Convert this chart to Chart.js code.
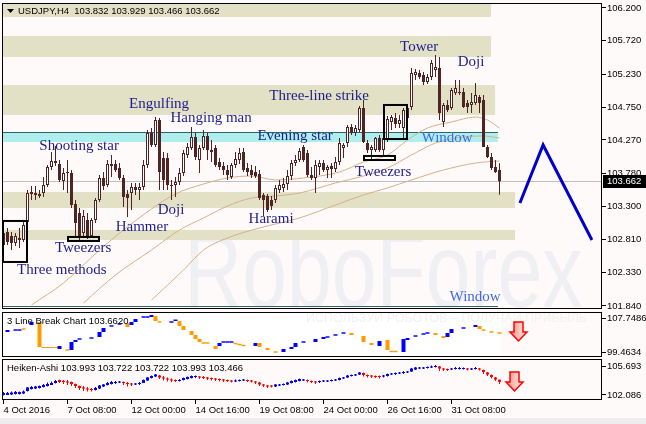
<!DOCTYPE html>
<html>
<head>
<meta charset="utf-8">
<script src="https://cdn.jsdelivr.net/npm/chart.js@4.4.1/dist/chart.umd.min.js"></script>
<style>
  body { margin: 0; background: #fffafa; width: 646px; height: 424px; overflow: hidden; position: relative; }
  canvas { position: absolute; left: 0; }
  #strip { position: absolute; left: 0; top: 418px; width: 646px; height: 6px; background: #ededed; }
</style>
</head>
<body>
<canvas id="main" width="646" height="311" style="top:0"></canvas>
<canvas id="lb" width="646" height="47" style="top:311px"></canvas>
<canvas id="ha" width="646" height="66" style="top:358px"></canvas>
<div id="strip"></div>
<script>
// USDJPY H4, bars 0..124 (4 Oct 16:00 .. 2 Nov 08:00)
const opens = [102.733,102.923,102.864,102.762,102.835,102.806,103.069,103.508,103.464,103.479,
  103.493,103.610,103.874,103.962,103.918,103.669,103.786,103.786,103.332,103.201,
  102.908,103.098,102.864,103.098,103.391,103.713,103.610,103.918,103.918,103.859,
  103.713,103.479,103.493,103.581,103.537,103.581,103.903,104.371,104.196,104.561,
  104.005,104.005,103.610,103.610,103.654,103.786,104.049,104.152,104.313,103.976,
  104.152,104.327,104.122,104.152,103.947,103.888,103.830,103.727,103.903,103.976,
  104.093,103.859,103.830,103.801,103.771,103.464,103.450,103.391,103.391,103.537,
  103.567,103.625,103.742,103.932,103.976,104.166,104.079,103.757,103.713,103.874,
  103.932,103.830,103.888,103.845,103.947,104.152,104.225,104.459,104.371,104.415,
  104.737,104.225,104.122,104.122,104.298,104.122,104.269,104.532,104.591,104.503,
  104.444,104.591,104.752,105.220,105.249,105.220,105.117,105.190,105.293,105.322,
  104.532,104.781,104.737,104.956,104.971,104.971,104.810,104.781,104.810,104.898,
  104.854,104.166,104.020,103.874,103.832];
const highs = [102.981,102.981,102.923,102.908,102.981,103.069,103.537,103.596,103.596,103.537,
  103.727,103.903,104.093,104.181,103.976,103.859,103.976,103.830,103.391,103.274,
  103.245,103.201,103.128,103.420,103.757,103.801,103.976,104.049,103.976,103.932,
  103.757,103.537,103.640,103.640,103.640,103.976,104.415,104.444,104.605,104.591,
  104.093,104.079,103.684,103.727,103.859,104.122,104.225,104.459,104.371,104.196,
  104.415,104.371,104.269,104.196,104.005,103.947,103.903,103.932,104.093,104.152,
  104.152,103.932,103.903,103.888,103.830,103.493,103.479,103.450,103.610,103.684,
  103.713,103.830,103.976,104.049,104.152,104.196,104.122,103.874,103.976,103.976,
  103.976,103.903,103.932,104.020,104.298,104.225,104.488,104.503,104.488,104.766,
  104.854,104.269,104.196,104.313,104.342,104.313,104.620,104.635,104.664,104.635,
  104.737,104.781,105.322,105.308,105.293,105.264,105.234,105.439,105.512,105.483,
  104.810,104.854,105.030,105.147,105.147,105.030,104.854,104.956,105.103,104.927,
  104.927,104.196,104.079,103.976,103.929];
const lows = [102.659,102.733,102.659,102.718,102.689,102.777,103.025,103.391,103.391,103.420,
  103.435,103.581,103.830,103.888,103.654,103.537,103.493,103.274,102.864,102.806,
  102.835,102.820,102.835,103.055,103.362,103.537,103.581,103.727,103.801,103.684,
  103.289,103.142,103.245,103.464,103.391,103.537,103.859,104.166,104.166,103.537,
  103.537,103.537,103.391,103.435,103.610,103.742,104.005,104.122,103.976,103.786,
  104.122,103.976,103.947,103.874,103.830,103.757,103.684,103.698,103.859,103.918,
  103.801,103.742,103.713,103.713,103.391,103.157,103.215,103.245,103.347,103.493,
  103.508,103.537,103.684,103.888,103.947,103.947,103.727,103.684,103.493,103.757,
  103.801,103.713,103.713,103.801,103.903,104.005,104.166,104.342,104.327,104.386,
  104.225,104.079,103.976,104.093,104.093,104.020,104.240,104.415,104.444,104.444,
  104.283,104.488,104.708,105.147,105.161,105.073,105.088,105.147,105.190,104.561,
  104.459,104.678,104.708,104.927,104.927,104.737,104.664,104.664,104.781,104.664,
  104.166,104.005,103.830,103.786,103.466];
const closes = [102.908,102.777,102.762,102.864,102.806,103.025,103.493,103.479,103.493,103.450,
  103.610,103.874,103.962,103.932,103.684,103.786,103.801,103.318,103.055,102.864,
  103.157,102.864,103.098,103.391,103.713,103.596,103.918,103.888,103.830,103.713,
  103.435,103.420,103.581,103.537,103.581,103.903,104.371,104.196,104.561,103.801,
  103.684,103.610,103.596,103.654,103.786,104.079,104.166,104.313,104.020,104.152,
  104.327,104.122,104.093,103.903,103.874,103.830,103.757,103.903,103.991,104.079,
  103.830,103.801,103.757,103.742,103.420,103.391,103.245,103.303,103.567,103.610,
  103.625,103.742,103.932,103.976,104.108,103.976,103.757,103.713,103.903,103.932,
  103.830,103.874,103.845,103.947,104.225,104.196,104.459,104.371,104.444,104.737,
  104.240,104.122,104.166,104.298,104.122,104.298,104.576,104.605,104.503,104.561,
  104.708,104.737,105.249,105.264,105.190,105.117,105.190,105.395,105.337,104.664,
  104.781,104.708,105.000,105.030,104.956,104.752,104.752,104.825,104.927,104.810,
  104.166,104.020,103.859,103.801,103.662];

// moving averages, read at a few bars
const maFastBars = [7,15,24,30,37,43,50,56,62,68,75,84,90,96,101,106,112,118,121,124];
const maFastValues = [101.855,102.177,102.659,102.952,103.259,103.479,103.625,103.713,103.742,103.684,103.713,103.801,103.947,104.049,104.269,104.444,104.532,104.605,104.561,104.444];
const maMidBars = [20,28,37,44,50,56,62,68,74,83,90,96,102,108,115,120,124];
const maMidValues = [101.884,102.294,102.659,102.952,103.128,103.303,103.420,103.450,103.493,103.640,103.742,103.859,104.049,104.225,104.313,104.327,104.298];
const maSlowBars = [37,45,50,56,64,74,83,90,96,102,110,118,124];
const maSlowValues = [101.927,102.366,102.659,102.835,102.981,103.128,103.318,103.464,103.567,103.684,103.830,103.932,103.962];

// forecast zigzag
const forecastBars = [129.1, 134.9, 147.1];
const forecastValues = [103.347, 104.196, 102.806];

// price zones
const zoneTops = [106.273, 105.790, 105.073, 103.508, 102.952];
const zoneBottoms = [106.068, 105.483, 104.635, 103.274, 102.806];
const zoneEnds = [121.9, 121.9, 122.9, 127.9, 127.9];
const windowTop = 104.386, windowBottom = 104.240, windowEnd = 123.6;
const lowerWindowLevel = 101.840;
const lastPrice = 103.662;

const priceTicks = [106.200,105.720,105.230,104.750,104.270,103.780,103.300,102.810,102.330,101.840];

// pattern labels
const labelText = ['Engulfing','Hanging man','Shooting star','Tweezers','Three methods','Hammer','Doji','Harami','Evening star','Three-line strike','Tweezers','Tower','Doji'];
const labelBars = [38.9,51.9,18.9,19.9,14.6,34.6,41.9,66.9,72.9,78.9,94.9,103.9,116.9];
const labelPrices = [104.795,104.591,104.181,102.689,102.367,102.996,103.245,103.113,104.327,104.912,103.801,105.629,105.410];
const windowLabelBars = [110.9, 117.9];
const windowLabelPrices = [104.298, 101.972];

const boxFrom = [-0.375, 15.875, 89.875, 94.875];
const boxTo = [5.875, 23.875, 97.875, 100.875];
const boxTops = [103.084, 102.850, 104.035, 104.781];
const boxBottoms = [102.484, 102.791, 103.976, 104.283];

// 3 Line Break
const lbBars = [1,3,4,5,7,9,10,11,12,13,14,16,17,18,19,22,24,25,27,29,31,32,33,35,36,37,38,39,42,43,44,45,47,48,49,50,51,53,54,55,56,57,58,59,60,63,64,66,68,70,72,73,75,78,80,81,83,85,87,90,92,94,96,97,98,100,101,103,105,106,108,110,111,112,115,118,119,120,122,124];
const lbLow = [104.34,104.64,104.64,104.89,106.04,100.68,100.44,100.44,100.44,100.44,100.20,99.77,99.95,101.90,102.45,102.69,103.12,104.34,105.62,106.11,105.56,106.04,106.77,107.81,107.81,107.99,107.02,106.59,106.59,107.02,105.80,104.82,103.61,102.63,101.90,101.48,101.48,100.20,100.93,101.72,101.72,101.72,101.36,101.11,100.87,100.93,100.68,99.95,99.28,99.46,100.20,100.68,101.72,101.90,102.63,102.94,103.43,103.91,103.61,101.90,101.17,100.93,99.95,99.41,99.41,99.46,102.39,103.18,103.67,103.91,103.61,102.87,103.12,104.09,105.13,105.56,105.07,104.64,104.16,103.91];
const lbHigh = [104.82,105.00,105.00,105.25,106.77,106.77,100.68,100.68,100.68,100.68,100.93,100.13,101.90,102.39,102.81,103.05,104.34,105.31,105.98,106.47,106.53,106.77,107.51,108.17,108.17,108.48,108.24,106.95,106.95,107.38,107.02,105.80,104.58,103.61,102.63,101.84,101.84,100.93,101.66,102.08,102.08,102.08,101.72,101.47,101.23,101.66,101.66,100.44,99.64,100.20,100.68,101.66,102.08,102.63,103.12,103.30,103.79,104.27,104.09,103.36,101.66,102.14,102.39,99.77,99.77,102.63,102.87,103.54,104.03,104.27,104.09,103.36,104.09,105.07,105.49,106.04,105.80,105.00,104.52,104.27];
const lbUp = [1,1,1,0,1,0,0,0,0,0,1,0,1,1,1,1,1,1,1,1,0,1,1,1,1,1,0,0,1,1,0,0,0,0,0,0,0,0,1,1,1,1,0,0,0,1,0,0,0,1,1,1,1,1,1,1,1,1,0,0,0,1,0,0,0,1,1,1,1,1,0,0,1,1,1,1,0,0,0,0];
const lbTicks = [107.7486, 99.4634];

// Heiken-Ashi
const haOpen = [102.086,102.086,102.148,102.210,102.210,102.272,102.583,102.832,102.894,102.957,
  103.081,103.205,103.330,103.578,103.952,103.827,103.765,103.703,103.454,103.205,
  103.019,102.894,102.832,102.708,102.894,103.143,103.330,103.454,103.578,103.641,
  103.703,103.578,103.516,103.392,103.454,103.578,103.889,104.200,104.387,104.512,
  104.263,104.138,104.014,103.952,103.827,103.952,104.076,104.200,104.325,104.387,
  104.325,104.263,104.200,104.138,104.076,104.014,103.952,103.889,103.765,103.827,
  103.889,103.952,103.889,103.765,103.641,103.392,103.267,103.267,103.143,103.267,
  103.330,103.392,103.578,103.703,103.827,103.889,103.952,103.827,103.765,103.703,
  103.765,103.765,103.827,103.889,103.952,104.138,104.263,104.449,104.512,104.636,
  104.822,104.574,104.512,104.449,104.449,104.387,104.449,104.636,104.698,104.760,
  104.822,104.885,105.009,105.258,105.382,105.382,105.444,105.507,105.569,105.631,
  105.382,105.320,105.258,105.320,105.320,105.320,105.382,105.258,105.320,105.382,
  105.196,104.885,104.574,104.263,103.993];
const haClose = [102.335,102.335,102.397,102.459,102.459,102.521,103.019,103.081,103.143,103.205,
  103.330,103.454,103.578,103.827,103.703,103.703,103.641,103.454,103.205,102.957,
  102.894,102.770,102.708,102.957,103.267,103.392,103.578,103.703,103.703,103.765,
  103.578,103.454,103.392,103.516,103.578,103.952,104.263,104.449,104.636,104.263,
  104.138,104.014,103.889,103.827,103.952,104.200,104.325,104.449,104.449,104.263,
  104.200,104.138,104.076,104.014,103.952,103.889,103.827,103.765,103.889,103.952,
  104.014,103.827,103.765,103.641,103.392,103.267,103.143,103.143,103.392,103.392,
  103.454,103.641,103.827,103.952,104.076,104.014,103.827,103.703,103.641,103.827,
  103.889,103.889,103.952,104.014,104.200,104.263,104.512,104.574,104.636,104.885,
  104.574,104.449,104.387,104.325,104.325,104.512,104.698,104.760,104.822,104.885,
  104.947,105.009,105.382,105.507,105.507,105.507,105.569,105.631,105.693,105.382,
  105.258,105.196,105.382,105.444,105.444,105.444,105.258,105.382,105.444,105.258,
  104.947,104.636,104.325,104.014,103.722];
const haHigh = [102.459,102.459,102.521,102.583,102.521,102.646,103.081,103.205,103.205,103.267,
  103.454,103.641,103.765,103.952,104.014,103.952,103.952,103.765,103.516,103.267,
  103.205,103.081,102.957,103.081,103.330,103.454,103.703,103.827,103.827,103.827,
  103.765,103.703,103.578,103.578,103.703,104.014,104.325,104.512,104.698,104.574,
  104.449,104.263,104.138,104.014,104.076,104.263,104.387,104.512,104.512,104.449,
  104.449,104.325,104.263,104.200,104.138,104.076,104.014,103.952,104.014,104.014,
  104.076,104.014,103.952,103.827,103.703,103.454,103.330,103.330,103.454,103.454,
  103.516,103.703,103.889,104.014,104.138,104.076,104.014,103.889,103.827,103.889,
  103.952,103.952,104.014,104.076,104.263,104.325,104.574,104.636,104.698,104.947,
  104.885,104.636,104.574,104.512,104.512,104.574,104.760,104.822,104.885,104.947,
  105.071,105.071,105.444,105.569,105.569,105.569,105.631,105.755,105.817,105.693,
  105.444,105.382,105.444,105.569,105.569,105.507,105.444,105.444,105.569,105.444,
  105.258,104.947,104.636,104.325,103.993];
const haLow = [102.024,102.086,102.086,102.148,102.148,102.210,102.521,102.770,102.832,102.894,
  103.019,103.143,103.330,103.516,103.578,103.454,103.330,103.205,102.957,102.708,
  102.583,102.521,102.521,102.646,102.832,103.081,103.267,103.392,103.454,103.578,
  103.330,103.143,103.205,103.330,103.330,103.578,103.827,104.138,104.325,104.076,
  103.889,103.765,103.703,103.703,103.765,103.889,104.014,104.138,104.200,104.076,
  104.076,103.952,103.889,103.827,103.765,103.703,103.703,103.641,103.703,103.765,
  103.827,103.703,103.641,103.454,103.205,103.081,102.957,103.019,103.081,103.205,
  103.267,103.330,103.516,103.641,103.765,103.827,103.641,103.578,103.454,103.578,
  103.703,103.703,103.765,103.827,103.889,104.076,104.200,104.387,104.449,104.574,
  104.387,104.263,104.200,104.200,104.138,104.263,104.387,104.574,104.574,104.698,
  104.698,104.822,104.947,105.196,105.320,105.320,105.382,105.444,105.507,105.071,
  105.071,105.071,105.196,105.258,105.258,105.258,105.134,105.196,105.258,105.134,
  104.698,104.449,104.138,103.827,103.466];
const haTicks = [105.693, 102.086];

const dateBars = [0,16,32,48,64,80,96,112];
const dateLabels = ['4 Oct 2016','7 Oct 08:00','12 Oct 00:00','14 Oct 16:00','19 Oct 08:00','24 Oct 00:00','26 Oct 16:00','31 Oct 08:00'];

const xMin = -0.375, xMax = 149.625;
const brown = '#4e2424';
const axisFont = { family: 'Liberation Sans', size: 9.5 };

Chart.defaults.font.family = 'Liberation Sans';
Chart.defaults.animation = false;

function yAxis(min, max, ticks, digits) {
  return {
    position: 'right', min, max,
    afterFit(s) { s.width = 44; s.paddingTop = 0; s.paddingBottom = 0; },
    afterBuildTicks(s) { s.ticks = ticks.map(v => ({ value: v })); },
    ticks: { autoSkip: false, padding: 1, color: '#000', font: axisFont, callback: v => v.toFixed(digits) },
    grid: { drawOnChartArea: false, drawTicks: true, tickLength: 4, tickColor: '#000' },
    border: { display: false }
  };
}

function drawBorder(chart) {
  const { ctx, chartArea: a } = chart;
  ctx.save();
  ctx.strokeStyle = '#000';
  ctx.lineWidth = 1;
  ctx.strokeRect(a.left + 0.5, a.top + 0.5, a.right - a.left - 1, a.bottom - a.top - 1);
  ctx.restore();
}

function drawDownArrow(ctx, cx, top) {
  ctx.save();
  const g = ctx.createLinearGradient(cx - 8, 0, cx + 8, 0);
  g.addColorStop(0, '#ff8c8c');
  g.addColorStop(1, '#fff3e6');
  ctx.beginPath();
  ctx.moveTo(cx - 4.5, top);
  ctx.lineTo(cx + 4.5, top);
  ctx.lineTo(cx + 4.5, top + 10);
  ctx.lineTo(cx + 8.5, top + 10);
  ctx.lineTo(cx, top + 19);
  ctx.lineTo(cx - 8.5, top + 10);
  ctx.lineTo(cx - 4.5, top + 10);
  ctx.closePath();
  ctx.fillStyle = g;
  ctx.fill();
  ctx.strokeStyle = '#ff0000';
  ctx.lineWidth = 1.5;
  ctx.stroke();
  ctx.restore();
}

const bars = opens.map((_, i) => i);

// ---------- main chart ----------
const mainOverlay = {
  id: 'mainOverlay',
  beforeDatasetsDraw(chart) {
    const { ctx, chartArea: a, scales: { x, y } } = chart;
    ctx.save();
    ctx.beginPath();
    ctx.rect(a.left, a.top, a.right - a.left, a.bottom - a.top);
    ctx.clip();
    // watermark
    ctx.fillStyle = '#efeff4';
    ctx.font = '106px "Liberation Sans"';
    ctx.textBaseline = 'alphabetic';
    ctx.save();
    ctx.translate(184, 307);
    ctx.scale(0.76, 1);
    ctx.fillText('RoboForex', 0, 0);
    ctx.restore();
    // zones
    ctx.fillStyle = '#e2e0c5';
    zoneTops.forEach((t, k) => {
      const y1 = y.getPixelForValue(t), y2 = y.getPixelForValue(zoneBottoms[k]);
      ctx.fillRect(a.left, y1, x.getPixelForValue(zoneEnds[k]) - a.left, y2 - y1);
    });
    const wy1 = y.getPixelForValue(windowTop), wy2 = y.getPixelForValue(windowBottom);
    const wx2 = x.getPixelForValue(windowEnd);
    ctx.fillStyle = '#afeeee';
    ctx.fillRect(a.left, wy1, wx2 - a.left, wy2 - wy1);
    ctx.strokeStyle = '#2f6464';
    ctx.lineWidth = 1;
    ctx.beginPath();
    ctx.moveTo(a.left, Math.round(wy1) + 0.5);
    ctx.lineTo(wx2, Math.round(wy1) + 0.5);
    const ly = Math.round(y.getPixelForValue(lowerWindowLevel)) + 0.5;
    ctx.moveTo(a.left, ly);
    ctx.lineTo(wx2, ly);
    ctx.stroke();
    // last price line
    const py = Math.round(y.getPixelForValue(lastPrice)) + 0.5;
    ctx.strokeStyle = '#c0c0c0';
    ctx.beginPath();
    ctx.moveTo(a.left, py);
    ctx.lineTo(a.right, py);
    ctx.stroke();
    ctx.restore();
  },
  afterDatasetsDraw(chart) {
    const { ctx, scales: { x, y } } = chart;
    ctx.save();
    ctx.strokeStyle = '#000';
    ctx.lineWidth = 2;
    boxFrom.forEach((f, k) => {
      const x1 = x.getPixelForValue(f), x2 = x.getPixelForValue(boxTo[k]);
      const y1 = y.getPixelForValue(boxTops[k]), y2 = y.getPixelForValue(boxBottoms[k]);
      ctx.strokeRect(x1 + 1, y1, x2 - x1 - 1, y2 - y1);
    });
    ctx.font = '15px "Liberation Serif"';
    ctx.textAlign = 'center';
    ctx.textBaseline = 'middle';
    ctx.fillStyle = '#1d1d8c';
    labelText.forEach((t, k) => ctx.fillText(t, x.getPixelForValue(labelBars[k]), y.getPixelForValue(labelPrices[k])));
    ctx.fillStyle = '#4169e1';
    windowLabelBars.forEach((b, k) => ctx.fillText('Window', x.getPixelForValue(b), y.getPixelForValue(windowLabelPrices[k])));
    // title
    ctx.fillStyle = '#000';
    ctx.beginPath();
    ctx.moveTo(7, 9); ctx.lineTo(14, 9); ctx.lineTo(10.5, 13);
    ctx.closePath();
    ctx.fill();
    ctx.textAlign = 'left';
    ctx.font = '9.5px "Liberation Sans"';
    ctx.fillText('USDJPY,H4  103.832 103.929 103.466 103.662', 18, 11.5);
    ctx.restore();
  },
  afterDraw(chart) {
    drawBorder(chart);
    const { ctx, chartArea: a, scales: { y } } = chart;
    const py = Math.round(y.getPixelForValue(lastPrice));
    ctx.save();
    ctx.fillStyle = '#000';
    ctx.fillRect(a.right + 1, py - 6, 44, 13);
    ctx.fillStyle = '#fff';
    ctx.font = '9.5px "Liberation Sans"';
    ctx.textBaseline = 'middle';
    ctx.fillText(lastPrice.toFixed(3), a.right + 5, py + 0.5);
    ctx.restore();
  }
};

new Chart(document.getElementById('main'), {
  type: 'bar',
  data: {
    datasets: [
      { type: 'line', order: 4, data: maSlowBars.map((b, k) => ({ x: b, y: maSlowValues[k] })), borderColor: '#d6b08a', borderWidth: 1, pointRadius: 0, cubicInterpolationMode: 'monotone' },
      { type: 'line', order: 4, data: maMidBars.map((b, k) => ({ x: b, y: maMidValues[k] })), borderColor: '#d6b08a', borderWidth: 1, pointRadius: 0, cubicInterpolationMode: 'monotone' },
      { type: 'line', order: 4, data: maFastBars.map((b, k) => ({ x: b, y: maFastValues[k] })), borderColor: '#d6b08a', borderWidth: 1, pointRadius: 0, cubicInterpolationMode: 'monotone' },
      { order: 3, grouped: false, barThickness: 1, inflateAmount: 0, backgroundColor: brown, borderWidth: 0,
        data: bars.map(i => ({ x: i, y: [lows[i], highs[i]] })) },
      { order: 2, grouped: false, barThickness: 3, inflateAmount: 0, borderSkipped: false, borderWidth: 1, borderColor: brown,
        backgroundColor: bars.map(i => closes[i] >= opens[i] ? '#ffffff' : brown),
        data: bars.map(i => ({ x: i, y: [opens[i], closes[i]] })) },
      { type: 'line', order: 1, data: forecastBars.map((b, k) => ({ x: b, y: forecastValues[k] })), borderColor: '#0000cd', borderWidth: 3, pointRadius: 0, tension: 0 }
    ]
  },
  options: {
    responsive: false, devicePixelRatio: 1, events: [],
    layout: { autoPadding: false, padding: { left: 2, top: 3, bottom: 2, right: 0 } },
    plugins: { legend: { display: false }, tooltip: { enabled: false } },
    scales: {
      x: { type: 'linear', min: xMin, max: xMax, offset: false, display: false },
      y: yAxis(101.796, 106.273, priceTicks, 3)
    }
  },
  plugins: [mainOverlay]
});

// ---------- 3 Line Break ----------
const lbOverlay = {
  id: 'lbOverlay',
  beforeDatasetsDraw(chart) {
    const { ctx, chartArea: a, scales: { x } } = chart;
    ctx.save();
    ctx.fillStyle = '#ffffff';
    ctx.fillRect(a.left, a.top, x.getPixelForValue(124.4) - a.left, a.bottom - a.top);
    ctx.fillStyle = '#f1f1f1';
    ctx.font = '12.5px "Liberation Sans"';
    ctx.textBaseline = 'middle';
    ctx.fillText('ИСПОЛЬЗУЙ РОБОТОВ – ПОЛУЧАЙ ПРИБЫЛЬ', 306, a.top + 7, 282);
    ctx.restore();
  },
  afterDatasetsDraw(chart) {
    const { ctx, chartArea: a, scales: { x, y } } = chart;
    ctx.save();
    ctx.fillStyle = '#000';
    ctx.font = '9.5px "Liberation Sans"';
    ctx.textBaseline = 'middle';
    ctx.fillText('3 Line Break Chart 103.6620', 7, a.top + 9.5);
    ctx.restore();
    drawDownArrow(ctx, x.getPixelForValue(128.75), y.getPixelForValue(106.77));
  },
  afterDraw(chart) { drawBorder(chart); }
};

new Chart(document.getElementById('lb'), {
  type: 'bar',
  data: {
    datasets: [{
      grouped: false, barThickness: 4, inflateAmount: 0, borderWidth: 0,
      backgroundColor: lbUp.map(u => u ? '#0000ff' : '#ff9a00'),
      data: lbBars.map((b, k) => ({ x: b, y: [lbLow[k], lbHigh[k]] }))
    }]
  },
  options: {
    responsive: false, devicePixelRatio: 1, events: [],
    layout: { autoPadding: false, padding: { left: 2, top: 1, bottom: 1, right: 0 } },
    plugins: { legend: { display: false }, tooltip: { enabled: false } },
    scales: {
      x: { type: 'linear', min: xMin, max: xMax, offset: false, display: false },
      y: yAxis(98.245, 109.211, lbTicks, 4)
    }
  },
  plugins: [lbOverlay]
});

// ---------- Heiken-Ashi ----------
const haOverlay = {
  id: 'haOverlay',
  afterDatasetsDraw(chart) {
    const { ctx, chartArea: a, scales: { x, y } } = chart;
    ctx.save();
    ctx.fillStyle = '#000';
    ctx.font = '9.5px "Liberation Sans"';
    ctx.textBaseline = 'middle';
    ctx.fillText('Heiken-Ashi 103.993 103.722 103.722 103.993 103.466', 7, a.top + 9.5);
    ctx.restore();
    drawDownArrow(ctx, x.getPixelForValue(127.75), y.getPixelForValue(104.947));
  },
  afterDraw(chart) { drawBorder(chart); }
};

const haColors = bars.map(i => haClose[i] >= haOpen[i] ? '#0000ff' : '#ff0000');

new Chart(document.getElementById('ha'), {
  type: 'bar',
  data: {
    datasets: [
      { grouped: false, order: 2, barThickness: 1, inflateAmount: 0, borderWidth: 0, backgroundColor: haColors,
        data: bars.map(i => ({ x: i, y: [haLow[i], haHigh[i]] })) },
      { grouped: false, order: 1, barThickness: 3, inflateAmount: 0, borderWidth: 0, backgroundColor: haColors,
        data: bars.map(i => ({ x: i, y: [haOpen[i], haClose[i]] })) }
    ]
  },
  options: {
    responsive: false, devicePixelRatio: 1, events: [],
    layout: { autoPadding: false, padding: { left: 2, top: 1, bottom: 0, right: 0 } },
    plugins: { legend: { display: false }, tooltip: { enabled: false } },
    scales: {
      x: {
        type: 'linear', min: xMin, max: xMax, offset: false,
        afterFit(s) { s.height = 24; s.paddingLeft = 0; s.paddingRight = 0; },
        afterBuildTicks(s) { s.ticks = dateBars.map(v => ({ value: v })); },
        ticks: { autoSkip: false, maxRotation: 0, minRotation: 0, align: 'start', padding: 1, color: '#000', font: axisFont,
          callback: (v, i) => dateLabels[i] },
        grid: { offset: false, drawOnChartArea: false, drawTicks: true, tickLength: 4, tickColor: '#000' },
        border: { display: false }
      },
      y: yAxis(101.464, 106.564, haTicks, 3)
    }
  },
  plugins: [haOverlay]
});
</script>
</body>
</html>
